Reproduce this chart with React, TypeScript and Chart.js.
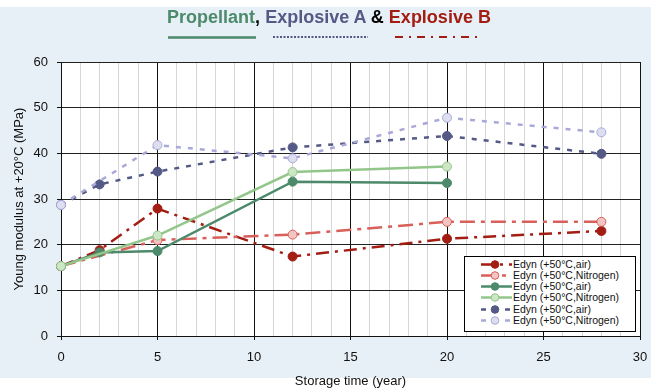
import React, { useEffect, useRef } from "react";
import { Chart, registerables } from "chart.js";

Chart.register(...registerables);

// ---- data ----
const years = [0, 2, 5, 12, 20, 28];
const redAir: (number | null)[] = [15.3, 18.8, 27.9, 17.4, 21.3, 23.0];
const redNitrogen: (number | null)[] = [15.3, null, 21.0, 22.2, 25.0, 25.0];
const greenAir: (number | null)[] = [15.3, 18.3, 18.6, 33.8, 33.5, null];
const greenNitrogen: (number | null)[] = [15.3, null, 22.0, 35.9, 37.1, null];
const purpleAir: (number | null)[] = [28.7, 33.2, 36.0, 41.3, 43.8, 39.9];
const lavenderNitrogen: (number | null)[] = [28.7, null, 41.8, 38.9, 47.8, 44.6];
const seriesLabels = [
  "Edyn (+50°C,air)",
  "Edyn (+50°C,Nitrogen)",
  "Edyn (+50°C,air)",
  "Edyn (+50°C,Nitrogen)",
  "Edyn (+50°C,air)",
  "Edyn (+50°C,Nitrogen)",
];

const FONT = "'Liberation Sans', Arial, sans-serif";

const styles = [
  { line: "#a31d13", fill: "#a31d13", dash: [13, 6, 3, 6], width: 2.5 },
  { line: "#d9605a", fill: "#f2c4c2", dash: [15, 6, 4, 6], width: 2.5 },
  { line: "#4c8a6b", fill: "#4c8a6b", dash: [] as number[], width: 2.5 },
  { line: "#93c68a", fill: "#cde6c6", dash: [] as number[], width: 2.5 },
  { line: "#545985", fill: "#545985", dash: [5, 7], width: 2.5 },
  { line: "#a9a9d9", fill: "#dedef1", dash: [5, 7], width: 2.5 },
];

const allSeries = [redAir, redNitrogen, greenAir, greenNitrogen, purpleAir, lavenderNitrogen];

function pts(vals: (number | null)[]) {
  const out: { x: number; y: number }[] = [];
  years.forEach((x, i) => {
    const v = vals[i];
    if (v !== null && v !== undefined) out.push({ x, y: v });
  });
  return out;
}

export default function App() {
  const ref = useRef<HTMLCanvasElement>(null);

  useEffect(() => {
    const datasets = allSeries.map((vals, i) => ({
      label: seriesLabels[i],
      data: pts(vals),
      order: 10 - i,
      clip: false,
      borderColor: styles[i].line,
      backgroundColor: styles[i].fill,
      borderWidth: styles[i].width,
      borderDash: styles[i].dash,
      pointRadius: 4.5,
      pointBorderWidth: 1,
      pointBorderColor: styles[i].line,
      pointBackgroundColor: styles[i].fill,
      tension: 0,
      fill: false,
    }));
    const chart = new Chart(ref.current!, {
      type: "line",
      data: { datasets },
      options: {
        responsive: false,
        animation: false,
        layout: { padding: { left: 0, top: 62, right: 11, bottom: 0 } },
        plugins: {
          legend: { display: false },
          tooltip: { enabled: false },
          title: { display: false },
        },
        scales: {
          x: {
            type: "linear",
            min: 0,
            max: 30,
            ticks: {
              stepSize: 1,
              autoSkip: false,
              maxRotation: 0,
              padding: 10,
              color: "#111",
              font: { family: FONT, size: 13 },
              callback: (v: any) => (Number(v) % 5 === 0 ? String(v) : ""),
            },
            grid: {
              color: (ctx: any) =>
                ctx.tick && ctx.tick.value % 5 === 0 ? "#111" : "#d6d6d6",
              tickColor: (ctx: any) =>
                ctx.tick && ctx.tick.value % 5 === 0 ? "#111" : "rgba(0,0,0,0)",
              tickLength: 4,
              lineWidth: 1,
            },
            border: { color: "#111", width: 1 },
            title: {
              display: true,
              text: "Storage time (year)",
              color: "#111",
              font: { family: FONT, size: 13 },
              padding: { top: 0, bottom: 0 },
            },
            afterFit: (s: any) => {
              s.height = 53;
              s.paddingRight = 0;
              s.paddingLeft = 0;
            },
          },
          y: {
            type: "linear",
            min: 0,
            max: 60,
            ticks: {
              stepSize: 10,
              padding: 9,
              color: "#111",
              font: { family: FONT, size: 13 },
            },
            grid: { color: "#222", tickColor: "#111", tickLength: 4, lineWidth: 1 },
            border: { color: "#111", width: 1 },
            title: {
              display: true,
              text: "Young modulus at +20°C (MPa)",
              color: "#111",
              font: { family: FONT, size: 13 },
              padding: { top: 12, bottom: 0 },
            },
            afterFit: (s: any) => {
              s.width = 61;
            },
          },
        },
      },
    } as any);
    return () => chart.destroy();
  }, []);

  const legendRow = (i: number) => {
    const st = styles[i];
    return (
      <div
        key={i}
        style={{ position: "relative", height: 11.3, lineHeight: "11.3px", whiteSpace: "nowrap" }}
      >
        <svg
          width={34}
          height={11}
          style={{ position: "absolute", left: 14, top: 0 }}
        >
          <line
            x1={2}
            y1={5.5}
            x2={33}
            y2={5.5}
            stroke={st.line}
            strokeWidth={2.5}
            strokeDasharray={st.dash.length ? st.dash.join(" ") : undefined}
          />
          <circle cx={16} cy={5.5} r={3.8} fill={st.fill} stroke={st.line} strokeWidth={1} />
        </svg>
        <span style={{ position: "absolute", left: 48, top: 0, fontSize: 10.5 }}>
          {seriesLabels[i]}
        </span>
      </div>
    );
  };

  return (
    <div
      style={{
        position: "absolute",
        left: 0,
        top: 0,
        width: 651,
        height: 389,
        background: "#ffffff",
        fontFamily: FONT,
        overflow: "hidden",
      }}
    >
      <div
        style={{
          position: "absolute",
          left: 0,
          top: 7,
          width: 651,
          height: 371,
          background: "#e8f0f7",
        }}
      />
      {/* plot area white background */}
      <div
        style={{
          position: "absolute",
          left: 61,
          top: 62,
          width: 579,
          height: 274,
          background: "#ffffff",
        }}
      />
      <canvas
        ref={ref}
        width={651}
        height={389}
        style={{ position: "absolute", left: 0, top: 0, width: 651, height: 389 }}
      />
      {/* title */}
      <div
        style={{
          position: "absolute",
          left: 0,
          top: 7,
          width: 658,
          textAlign: "center",
          fontWeight: "bold",
          fontSize: 18,
          whiteSpace: "nowrap",
        }}
      >
        <span style={{ color: "#4c8a6b" }}>Propellant</span>
        <span style={{ color: "#000" }}>, </span>
        <span style={{ color: "#545985" }}>Explosive A</span>
        <span style={{ color: "#000" }}> &amp; </span>
        <span style={{ color: "#a31d13" }}>Explosive B</span>
      </div>
      <svg
        width={651}
        height={20}
        style={{ position: "absolute", left: 0, top: 28 }}
      >
        <line x1={168} y1={9.5} x2={256} y2={9.5} stroke="#4c8a6b" strokeWidth={2.5} />
        <line
          x1={273}
          y1={9}
          x2={368}
          y2={9}
          stroke="#545985"
          strokeWidth={2}
          strokeDasharray="2 1.5"
        />
        <line
          x1={395}
          y1={9}
          x2={479}
          y2={9}
          stroke="#a31d13"
          strokeWidth={2}
          strokeDasharray="8 6 2 6"
        />
      </svg>
      {/* legend */}
      <div
        style={{
          position: "absolute",
          left: 464,
          top: 256,
          width: 170,
          height: 72,
          border: "1px solid #000",
          background: "#ffffff",
          paddingTop: 1.5,
          boxSizing: "content-box",
          color: "#111",
        }}
      >
        {[0, 1, 2, 3, 4, 5].map(legendRow)}
      </div>
    </div>
  );
}
